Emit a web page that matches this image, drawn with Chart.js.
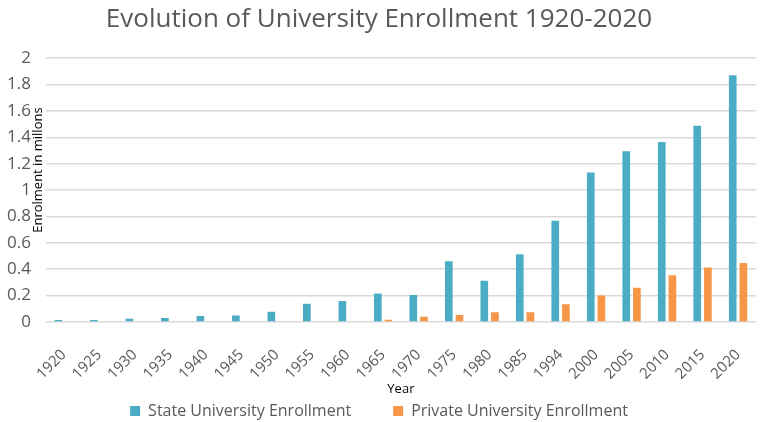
<!DOCTYPE html>
<html>
<head>
<meta charset="utf-8">
<script src="https://cdn.jsdelivr.net/npm/chart.js@4.4.0/dist/chart.umd.min.js"></script>
<style>
  html, body { margin: 0; padding: 0; background: #fff; }
  #wrap { width: 767px; height: 422px; }
</style>
</head>
<body>
<div id="wrap"><canvas id="enrol" width="767" height="422"></canvas></div>
<script>
const years = ["1920", "1925", "1930", "1935", "1940", "1945", "1950", "1955", "1960", "1965",
               "1970", "1975", "1980", "1985", "1994", "2000", "2005", "2010", "2015", "2020"];
const stateEnrol = [0.015, 0.015, 0.025, 0.03, 0.045, 0.05, 0.078, 0.139, 0.159, 0.217,
                    0.205, 0.46, 0.313, 0.513, 0.768, 1.134, 1.295, 1.364, 1.487, 1.871];
const privateEnrol = [0, 0, 0, 0, 0, 0, 0, 0, 0, 0.018,
                      0.04, 0.053, 0.073, 0.073, 0.134, 0.2, 0.26, 0.354, 0.414, 0.447];

const grey = "#595959";
const font = "'Open Sans', 'DejaVu Sans', sans-serif";

// axis titles drawn by hand: the excel ones sit closer to the plot than chart.js puts them
const axisTitles = {
    id: "axisTitles",
    afterDraw(chart) {
        const ctx = chart.ctx;
        const a = chart.chartArea;
        ctx.save();
        ctx.font = "13px " + font;
        ctx.fillStyle = "#000";
        ctx.textAlign = "center";
        ctx.textBaseline = "middle";
        ctx.fillText("Year", (a.left + a.right) / 2, a.bottom + 67);
        ctx.translate(a.left - 8, (a.top + a.bottom) / 2 - 20);
        ctx.rotate(-Math.PI / 2);
        ctx.fillText("Enrolment in millons", 0, 0);
        ctx.restore();
    }
};

// default legend items plus an empty one between them, just to widen the gap
function legendItems(chart) {
    const items = Chart.defaults.plugins.legend.labels.generateLabels(chart);
    items.splice(1, 0, {
        text: "",
        fillStyle: "rgba(0,0,0,0)",
        strokeStyle: "rgba(0,0,0,0)",
        lineWidth: 0,
        hidden: false
    });
    return items;
}

new Chart(document.querySelector("#enrol"), {
    type: "bar",
    data: {
        labels: years,
        datasets: [
            {
                label: "State University Enrollment",
                data: stateEnrol,
                backgroundColor: "#4BACC6",
                categoryPercentage: 0.6,
                barPercentage: 0.72
            },
            {
                label: "Private University Enrollment",
                data: privateEnrol,
                backgroundColor: "#F79646",
                categoryPercentage: 0.6,
                barPercentage: 0.72
            }
        ]
    },
    options: {
        responsive: false,
        animation: false,
        layout: { padding: { left: 0, right: 9, top: 4, bottom: -7 } },
        plugins: {
            title: {
                display: true,
                text: "Evolution of University Enrollment 1920-2020",
                color: grey,
                font: { family: font, size: 26, weight: "normal" },
                padding: { top: 0, bottom: 23 }
            },
            legend: {
                position: "bottom",
                labels: {
                    color: grey,
                    boxWidth: 10,
                    boxHeight: 10,
                    padding: 12,
                    font: { family: font, size: 16 },
                    generateLabels: legendItems
                }
            },
            tooltip: { enabled: false }
        },
        scales: {
            x: {
                grid: { display: false },
                border: { display: false },
                ticks: {
                    color: grey,
                    minRotation: 45,
                    maxRotation: 45,
                    padding: 16,
                    font: { family: font, size: 15 }
                },
                afterFit: s => { s.height = 69; }
            },
            y: {
                min: 0,
                max: 2,
                ticks: {
                    stepSize: 0.2,
                    color: grey,
                    padding: 15,
                    font: { family: font, size: 17 },
                    callback: v => String(Number(v.toFixed(1)))
                },
                grid: { color: "#d9d9d9", lineWidth: 1.5, drawTicks: false },
                border: { display: false },
                afterFit: s => { s.width = 46; }
            }
        }
    },
    plugins: [axisTitles]
});
</script>
</body>
</html>
